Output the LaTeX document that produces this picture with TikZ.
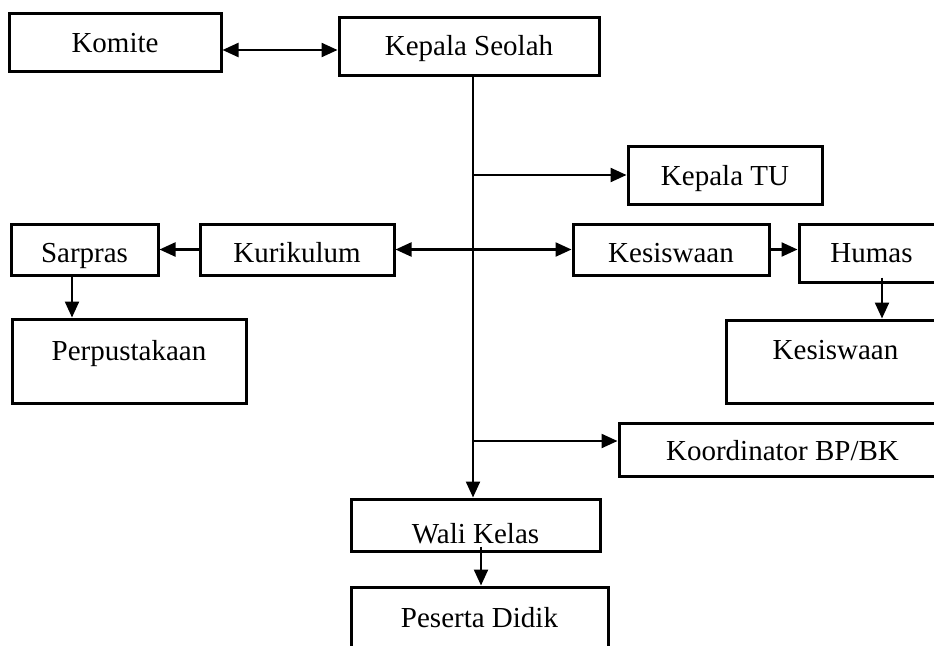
\documentclass[tikz,border=0pt]{standalone}
\usepackage{fontspec}
\setmainfont{Liberation Serif}
\usetikzlibrary{arrows.meta}
\begin{document}
\begin{tikzpicture}[x=1pt,y=-1pt,
  % bl = distance of the baseline below the box centre
  box/.style={draw, line width=3pt, rectangle, inner sep=0pt,
    font=\fontsize{29}{34}\selectfont, text height=36pt, bl=10},
  bl/.style={text depth={36pt-2*#1 pt}},
  link/.style={line width=2.3pt, -{Triangle[length=16pt,width=14pt]}},
  duallink/.style={line width=2.3pt, {Triangle[length=16pt,width=14pt]}-{Triangle[length=16pt,width=14pt]}}]
\clip (0,0) rectangle (934,645);
\fill[white] (0,0) rectangle (934,645);

% boxes
\node[box, bl=10, minimum width=212pt, minimum height=58pt] (komite) at (115,42) {Komite};
\node[box, bl=9, minimum width=260pt, minimum height=58pt] (kepala) at (469,46) {Kepala Seolah};
\node[box, bl=10, minimum width=194pt, minimum height=58pt] (tu) at (725,175) {Kepala TU};
\node[box, bl=12.5, minimum width=147pt, minimum height=51pt] (sarpras) at (84.5,249.5) {Sarpras};
\node[box, bl=12.5, minimum width=194pt, minimum height=51pt] (kurikulum) at (297,249.5) {Kurikulum};
\node[box, bl=-1, minimum width=234pt, minimum height=84pt] (perpus) at (129,361) {Perpustakaan};
\node[box, bl=12.5, minimum width=196pt, minimum height=51pt] (kesiswaan) at (671,249.5) {Kesiswaan};
\node[box, bl=9, minimum width=145pt, minimum height=58pt] (humas) at (871.5,253) {Humas};
\node[box, bl=-2.5, minimum width=219pt, minimum height=83pt] (kesiswaanb) at (835.5,361.5) {Kesiswaan};
\node[box, bl=10.5, minimum width=327pt, minimum height=53pt] (bpbk) at (782.5,449.5) {Koordinator BP/BK};
\node[box, bl=18, minimum width=249pt, minimum height=52pt] (wali) at (475.5,525) {Wali Kelas};
\node[box, bl=-1.5, minimum width=257pt, minimum height=83pt] (peserta) at (479.5,628.5) {Peserta Didik};

% helper points
\coordinate (trunk) at ([xshift=4pt]kepala.south);
\coordinate (kk) at ([yshift=-4pt]kepala.west);
\coordinate (bpin) at ([yshift=8.5pt]bpbk.west);
\coordinate (sp) at ([xshift=-12.5pt]sarpras.south);
\coordinate (hm) at ([xshift=10.5pt,yshift=6pt]humas.south);
\coordinate (wk) at ([xshift=5.5pt,yshift=6pt]wali.south);

% connectors
\draw[duallink] (komite.east |- kk) -- (kk);
\draw[link] (trunk) -- (trunk |- wali.north);
\draw[link] (trunk |- tu.west) -- (tu.west);
\draw[duallink] (kurikulum.east) -- (kesiswaan.west);
\draw[link] (kurikulum.west) -- (sarpras.east);
\draw[link] (sp) -- (sp |- perpus.north);
\draw[link] (kesiswaan.east) -- (humas.west |- kesiswaan.east);
\draw[link] (hm) -- (hm |- kesiswaanb.north);
\draw[link] (trunk |- bpin) -- (bpin);
\draw[link] (wk) -- (wk |- peserta.north);
\end{tikzpicture}
\end{document}
